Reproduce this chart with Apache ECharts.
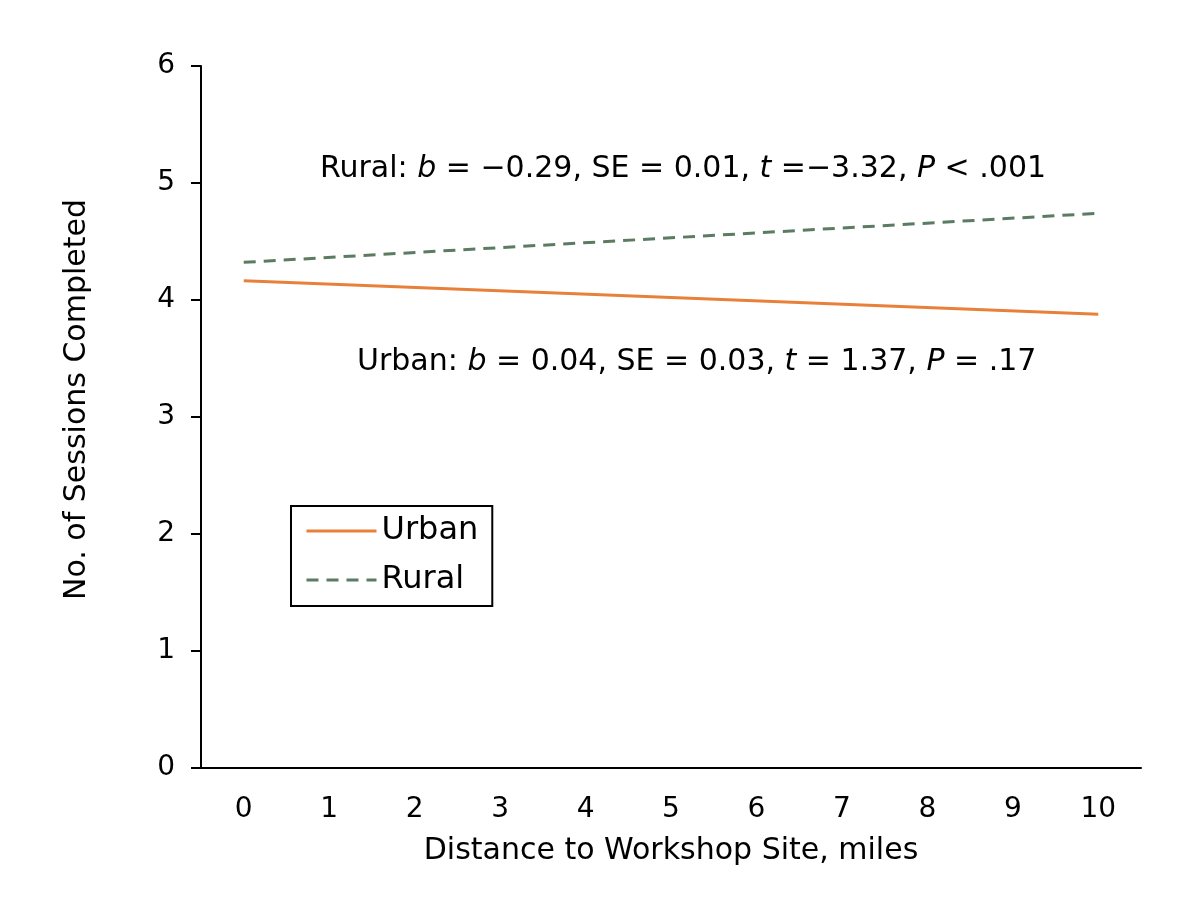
<!DOCTYPE html>
<html><head><meta charset="utf-8">
<script src="https://cdn.jsdelivr.net/npm/echarts@6/dist/echarts.min.js"></script>
<style>html,body{margin:0;padding:0;background:#fff}#c{width:1185px;height:920px}</style>
</head><body><div id="c"></div>
<script>
const categories = ['0','1','2','3','4','5','6','7','8','9','10'];
const urbanData = [['0', 4.165], ['10', 3.878]];
const ruralData = [['0', 4.322], ['10', 4.741]];
const yTicks = [0, 1, 2, 3, 4, 5, 6];
const xTitle = 'Distance to Workshop Site, miles';
const yTitle = 'No. of Sessions Completed';

const F = '"DejaVu Sans", Verdana, sans-serif';
const chart = echarts.init(document.getElementById('c'));
const rich = {
  n: { fontSize: 30, fontFamily: F, fill: '#000' },
  i: { fontSize: 30, fontFamily: F, fontStyle: 'italic', fill: '#000' }
};
chart.setOption({
  backgroundColor: '#fff',
  animation: false,
  grid: { left: 201, right: 44, top: 66, bottom: 152, containLabel: false },
  xAxis: {
    type: 'category', data: categories, boundaryGap: true,
    axisLine: { lineStyle: { color: '#000', width: 2 } },
    axisTick: { alignWithLabel: true, length: 9, lineStyle: { color: '#000', width: 2 } },
    axisLabel: { color: '#000', fontSize: 28, fontFamily: F, margin: 28 },
    splitLine: { show: false }
  },
  yAxis: {
    type: 'value', min: yTicks[0], max: yTicks[yTicks.length - 1], interval: 1,
    axisLine: { show: true, lineStyle: { color: '#000', width: 2 } },
    axisTick: { show: true, length: 10, lineStyle: { color: '#000', width: 2 } },
    axisLabel: { color: '#000', fontSize: 28, fontFamily: F, margin: 26 },
    splitLine: { show: false }
  },
  legend: {
    orient: 'vertical', left: 291, top: 506,
    itemWidth: 70, itemHeight: 14, itemGap: 17,
    borderColor: '#000', borderWidth: 2, padding: [9, 14, 10, 14],
    backgroundColor: '#fff',
    itemStyle: { opacity: 0 },
    lineStyle: { width: 3 },
    textStyle: { color: '#000', fontSize: 32, fontFamily: F },
    data: ['Urban', 'Rural']
  },
  series: [
    { name: 'Urban', type: 'line', data: urbanData, symbol: 'none',
      lineStyle: { color: '#E9803A', width: 3 }, itemStyle: { color: '#E9803A' } },
    { name: 'Rural', type: 'line', data: ruralData, symbol: 'none',
      lineStyle: { color: '#5B7B62', width: 3, type: [12, 8] }, itemStyle: { color: '#5B7B62' } }
  ],
  graphic: [
    { type: 'text', x: 671, y: 836, style: { text: xTitle, fill: '#000', font: '30px ' + F, textAlign: 'center' } },
    { type: 'text', rotation: Math.PI / 2, x: 62, y: 600, style: { text: yTitle, fill: '#000', font: '30px ' + F } },
    { type: 'text', x: 320, y: 154, style: {
        text: '{n|Rural: }{i|b}{n| = \u22120.29, SE = 0.01, }{i|t}{n| =\u22123.32, }{i|P}{n| < .001}', rich: rich } },
    { type: 'text', x: 357, y: 347, style: {
        text: '{n|Urban: }{i|b}{n| = 0.04, SE = 0.03, }{i|t}{n| = 1.37, }{i|P}{n| = .17}', rich: rich } }
  ]
});
</script></body></html>
